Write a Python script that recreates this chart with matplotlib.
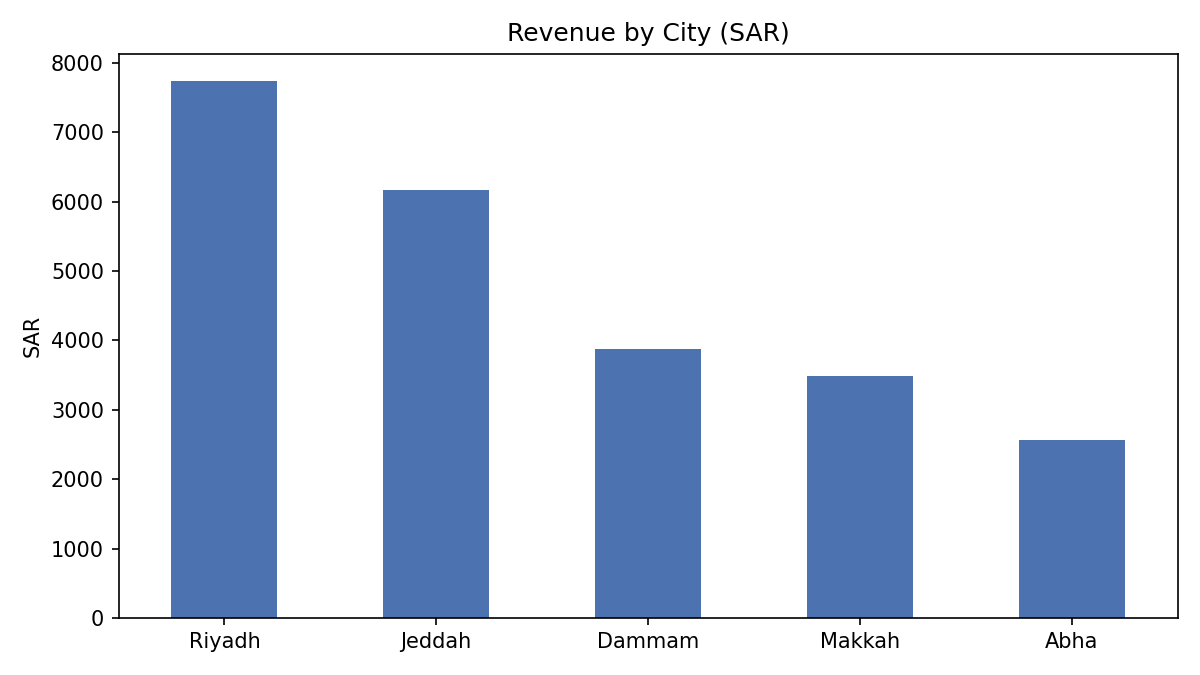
import matplotlib
matplotlib.use("Agg")
import matplotlib.pyplot as plt

cities = ["Riyadh", "Jeddah", "Dammam", "Makkah", "Abha"]
revenue = [7740, 6160, 3880, 3490, 2560]

fig, ax = plt.subplots(figsize=(8, 4.5), dpi=150)
ax.bar(range(len(cities)), revenue, width=0.5, color="#4C72B0")
ax.set_xticks(range(len(cities)))
ax.set_xticklabels(cities)
ax.set_xlim(-0.5, len(cities) - 0.5)
ax.set_title("Revenue by City (SAR)")
ax.set_ylabel("SAR")
fig.tight_layout()
fig.savefig("out.png")
